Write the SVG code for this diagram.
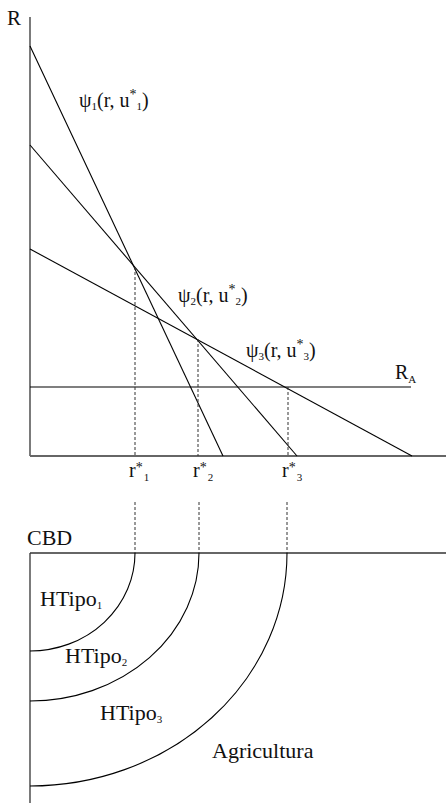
<svg xmlns="http://www.w3.org/2000/svg" width="446" height="803" viewBox="0 0 446 803" font-family="'Liberation Serif', 'Times New Roman', 'DejaVu Serif', serif">
<style>
  .ln { stroke: #000; stroke-width: 1.1; fill: none; }
  .ax { stroke: #333; stroke-width: 1.3; fill: none; }
  .axg { stroke: #666; stroke-width: 2; fill: none; }
  .dash { stroke: #333; stroke-width: 1; stroke-dasharray: 3,2; fill: none; }
  .t { font-family: 'Liberation Serif', 'Times New Roman', 'DejaVu Serif', serif; fill: #111; }
  .lbl { font-size: 20px; }
  .big { font-size: 22px; }
  .sub { font-size: 11px; }
</style>
<rect width="446" height="803" fill="#fff"/>

<g id="axes-top">
  <line class="ax" x1="30" y1="17" x2="30" y2="456"/>
  <line class="axg" x1="30" y1="456" x2="446" y2="456"/>
  <text class="t" x="7" y="25" font-size="21">R</text>
</g>

<g id="connectors">
  <line id="psi1" class="ln" x1="30" y1="46" x2="223" y2="456"/>
  <line id="psi2" class="ln" x1="30" y1="145" x2="297" y2="456"/>
  <line id="psi3" class="ln" x1="30" y1="249" x2="412" y2="456"/>
  <line id="RA" class="ln" x1="30" y1="387" x2="411" y2="387"/>
  <line class="dash" x1="135" y1="267" x2="135" y2="456"/>
  <line class="dash" x1="198" y1="339" x2="198" y2="456"/>
  <line class="dash" x1="288" y1="387" x2="288" y2="456"/>
  <line class="dash" x1="135" y1="502" x2="135" y2="553"/>
  <line class="dash" x1="199" y1="502" x2="199" y2="553"/>
  <line class="dash" x1="287" y1="502" x2="287" y2="553"/>
</g>

<g id="label-psi1">
  <text class="t lbl" x="79" y="107">ψ<tspan class="sub" dy="3">1</tspan><tspan dy="-3">(r, u</tspan><tspan font-size="14" dy="-8">*</tspan><tspan class="sub" dy="11">1</tspan><tspan dy="-3">)</tspan></text>
</g>
<g id="label-psi2">
  <text class="t lbl" x="178" y="302">ψ<tspan class="sub" dy="3">2</tspan><tspan dy="-3">(r, u</tspan><tspan font-size="14" dy="-8">*</tspan><tspan class="sub" dy="11">2</tspan><tspan dy="-3">)</tspan></text>
</g>
<g id="label-psi3">
  <text class="t lbl" x="246" y="357">ψ<tspan class="sub" dy="3">3</tspan><tspan dy="-3">(r, u</tspan><tspan font-size="14" dy="-8">*</tspan><tspan class="sub" dy="11">3</tspan><tspan dy="-3">)</tspan></text>
</g>
<g id="label-RA">
  <text class="t" x="395" y="379" font-size="20">R<tspan class="sub" dy="4">A</tspan></text>
</g>

<g id="r1">
  <text class="t lbl" x="129" y="477">r<tspan font-size="14" dy="-5">*</tspan><tspan class="sub" dx="1" dy="9">1</tspan></text>
</g>
<g id="r2">
  <text class="t lbl" x="193" y="477">r<tspan font-size="14" dy="-5">*</tspan><tspan class="sub" dx="1" dy="9">2</tspan></text>
</g>
<g id="r3">
  <text class="t lbl" x="282" y="477">r<tspan font-size="14" dy="-5">*</tspan><tspan class="sub" dx="1" dy="9">3</tspan></text>
</g>

<g id="city">
  <line class="ax" x1="30" y1="553" x2="446" y2="553"/>
  <line class="ax" x1="30" y1="553" x2="30" y2="803"/>
  <text class="t big" x="27" y="545">CBD</text>
</g>

<g id="zone1">
  <path class="ln" d="M135,553 A105,98 0 0 1 30,651"/>
  <text class="t big" x="40" y="606">HTipo<tspan class="sub" dy="3">1</tspan></text>
</g>
<g id="zone2">
  <path class="ln" d="M199,553 A169,148 0 0 1 30,701"/>
  <text class="t big" x="65" y="663">HTipo<tspan class="sub" dy="3">2</tspan></text>
</g>
<g id="zone3">
  <path class="ln" d="M287,553 A257,233 0 0 1 30,786"/>
  <text class="t big" x="100" y="720">HTipo<tspan class="sub" dy="3">3</tspan></text>
</g>
<g id="agri">
  <text class="t big" x="212" y="758">Agricultura</text>
</g>
</svg>
